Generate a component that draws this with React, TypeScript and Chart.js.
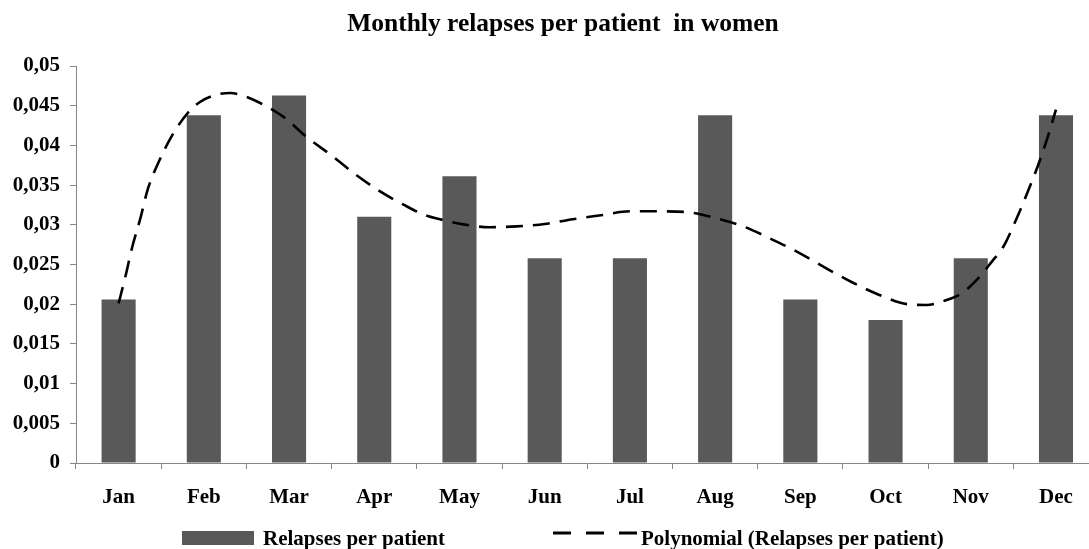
import React, { useEffect, useRef } from "react";
import { Chart, registerables } from "chart.js";

Chart.register(...registerables);

const TITLE = "Monthly relapses per patient  in women";
const SERIES_NAME = "Relapses per patient";
const TREND_NAME = "Polynomial (Relapses per patient)";

const months = ["Jan", "Feb", "Mar", "Apr", "May", "Jun", "Jul", "Aug", "Sep", "Oct", "Nov", "Dec"];
const relapses = [0.0206, 0.0438, 0.0463, 0.031, 0.0361, 0.0258, 0.0258, 0.0438, 0.0206, 0.018, 0.0258, 0.0438];

// Trendline (x in month index units, 0 = Jan)
const trendX = [0, 0.08, 0.16, 0.26, 0.34, 0.47, 0.63, 0.82, 0.96, 1.12, 1.31, 1.45, 1.65, 1.96, 2.19, 2.49, 2.76, 3.04, 3.35, 3.6, 3.81, 4.02, 4.35, 4.67, 5.0, 5.33, 5.66, 6.0, 6.33, 6.66, 6.99, 7.33, 7.66, 7.98, 8.29, 8.6, 8.92, 9.26, 9.48, 9.71, 9.91, 10.1, 10.25, 10.38, 10.53, 10.67, 10.79, 10.91, 11.0];
const trendY = [0.0201, 0.0235, 0.0272, 0.031, 0.0344, 0.0379, 0.0413, 0.0442, 0.0455, 0.0463, 0.0466, 0.0463, 0.0454, 0.0434, 0.0412, 0.0388, 0.0365, 0.0344, 0.0325, 0.0312, 0.0306, 0.0301, 0.0297, 0.0298, 0.0301, 0.0307, 0.0312, 0.0317, 0.0317, 0.0316, 0.0309, 0.0298, 0.0282, 0.0265, 0.0246, 0.0228, 0.0212, 0.02, 0.0199, 0.0205, 0.0215, 0.0234, 0.0254, 0.0272, 0.0306, 0.0342, 0.0375, 0.0413, 0.0445];

const yMin = 0;
const yMax = 0.05;
const yStep = 0.005;

const BAR_COLOR = "#595959";
const AXIS_COLOR = "#868686";
const FONT_FAMILY = '"Liberation Serif", "Times New Roman", serif';

const overlayPlugin = {
  id: "overlay",
  afterDraw(chart: any) {
    const ctx = chart.ctx as CanvasRenderingContext2D;
    ctx.save();
    ctx.fillStyle = "#000";
    ctx.textBaseline = "alphabetic";
    ctx.textAlign = "center";
    ctx.font = `bold 25.5px ${FONT_FAMILY}`;
    ctx.fillText(TITLE, 563, 31);

    // legend
    ctx.fillStyle = BAR_COLOR;
    ctx.fillRect(182, 531, 72, 14);
    ctx.fillStyle = "#000";
    ctx.textAlign = "left";
    ctx.font = `bold 21px ${FONT_FAMILY}`;
    ctx.fillText(SERIES_NAME, 263, 545);

    ctx.strokeStyle = "#000";
    ctx.lineWidth = 3;
    ctx.setLineDash([18, 15]);
    ctx.beginPath();
    ctx.moveTo(553, 533);
    ctx.lineTo(637, 533);
    ctx.stroke();
    ctx.setLineDash([]);
    ctx.fillText(TREND_NAME, 641, 545);
    ctx.restore();
  },
};

export default function App() {
  const ref = useRef<HTMLCanvasElement | null>(null);

  useEffect(() => {
    if (!ref.current) return;
    const chart = new Chart(ref.current, {
      type: "bar",
      data: {
        labels: months,
        datasets: [
          {
            type: "line",
            label: TREND_NAME,
            data: trendX.map((x, i) => ({ x, y: trendY[i] })),
            xAxisID: "x2",
            yAxisID: "y",
            borderColor: "#000",
            borderWidth: 2.6,
            borderDash: [17, 10],
            pointRadius: 0,
            fill: false,
            cubicInterpolationMode: "monotone",
            order: 0,
          } as any,
          {
            type: "bar",
            label: SERIES_NAME,
            data: relapses,
            backgroundColor: BAR_COLOR,
            borderWidth: 0,
            categoryPercentage: 1,
            barPercentage: 0.4,
            grouped: false,
            xAxisID: "x",
            yAxisID: "y",
            order: 1,
          },
        ],
      },
      options: {
        responsive: false,
        animation: false,
        devicePixelRatio: 1,
        layout: { padding: { top: 66, right: 27.4, bottom: 0, left: 0 } },
        plugins: {
          legend: { display: false },
          title: { display: false },
          tooltip: { enabled: false },
        },
        scales: {
          x: {
            type: "category",
            offset: true,
            grid: { offset: true, drawOnChartArea: false, tickLength: 6, color: AXIS_COLOR },
            border: { color: AXIS_COLOR, width: 1 },
            ticks: { color: "#000", font: { family: FONT_FAMILY, size: 21, weight: "bold" }, padding: 16, maxRotation: 0, autoSkip: false },
            afterFit: (s: any) => {
              s.height = 86;
            },
          },
          x2: {
            type: "linear",
            min: -0.5,
            max: 11.5,
            offset: false,
            grid: { offset: false },
            display: false,
          },
          y: {
            min: yMin,
            max: yMax,
            grid: { drawOnChartArea: false, tickLength: 6, color: AXIS_COLOR },
            border: { color: AXIS_COLOR, width: 1 },
            ticks: {
              stepSize: yStep,
              color: "#000",
              font: { family: FONT_FAMILY, size: 21, weight: "bold" },
              padding: 10,
              callback: (v: any) => String(Math.round(Number(v) * 1000000) / 1000000).replace(".", ","),
            },
            afterFit: (s: any) => {
              s.width = 76;
            },
          },
        },
      } as any,
      plugins: [overlayPlugin],
    });
    return () => chart.destroy();
  }, []);

  return (
    <div style={{ position: "fixed", left: 0, top: 0, width: 1089, height: 549, overflow: "hidden", background: "#fff" }}>
      <canvas ref={ref} width={1126} height={549} style={{ width: 1126, height: 549, display: "block" }} />
    </div>
  );
}
